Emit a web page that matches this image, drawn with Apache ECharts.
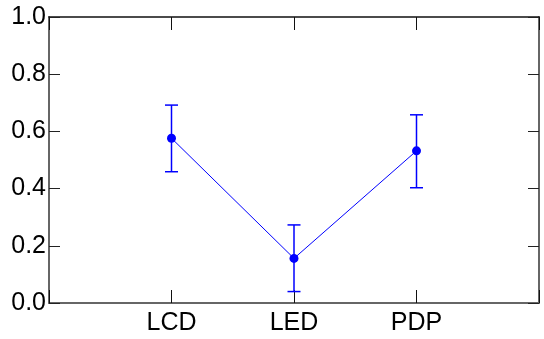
<!DOCTYPE html>
<html><head><meta charset="utf-8">
<script src="https://cdn.jsdelivr.net/npm/echarts@6/dist/echarts.min.js"></script>
<style>html,body{margin:0;padding:0;background:#fff}#c{width:544px;height:339px}</style>
</head><body><div id="c"></div>
<script>
var categories = ['LCD', 'LED', 'PDP'];
var means = [0.576, 0.156, 0.532];
var lows = [0.459, 0.040, 0.403];
var highs = [0.692, 0.273, 0.658];
var yTicks = [0.0, 0.2, 0.4, 0.6, 0.8, 1.0];

var FONT = '"Liberation Sans Narrow", "Liberation Sans", Arial, sans-serif';
var BLUE = '#0000ff';
var pts = means.map(function (v, i) { return [i + 1, v]; });
var errs = means.map(function (v, i) { return [i + 1, lows[i], highs[i]]; });

function xAx(pos, showLabel, lineColor, lineWidth) {
  return {
    type: 'value', position: pos, min: 0, max: categories.length + 1, interval: 1,
    splitLine: { show: false },
    axisLine: { show: true, onZero: false, lineStyle: { color: lineColor, width: lineWidth } },
    axisTick: { show: true, inside: true, length: 13, lineStyle: { color: '#111', width: 1 } },
    axisLabel: {
      show: showLabel, margin: 8, fontSize: 25, fontFamily: FONT, color: '#000',
      formatter: function (v) { return categories[v - 1] || ''; }
    }
  };
}
function yAx(pos, showLabel) {
  return {
    type: 'value', position: pos, min: yTicks[0], max: yTicks[yTicks.length - 1], interval: 0.2,
    splitLine: { show: false },
    axisLine: { show: true, onZero: false, lineStyle: { color: '#666', width: 2 } },
    axisTick: { show: true, inside: true, length: 11, lineStyle: { color: '#222', width: 1 } },
    axisLabel: {
      show: showLabel, margin: 3, fontSize: 25, fontFamily: FONT, color: '#000',
      formatter: function (v) { return v.toFixed(1); }
    }
  };
}

var chart = echarts.init(document.getElementById('c'));
chart.setOption({
  animation: false,
  backgroundColor: '#fff',
  grid: { left: 49, right: 5, top: 17, bottom: 36, containLabel: false },
  xAxis: [xAx('bottom', true, '#666', 2), xAx('top', false, '#111', 1.5)],
  yAxis: [yAx('left', true), yAx('right', false)],
  series: [
    {
      type: 'custom', xAxisIndex: 0, yAxisIndex: 0, data: errs, z: 3,
      renderItem: function (params, api) {
        var x = api.value(0);
        var pLo = api.coord([x, api.value(1)]);
        var pHi = api.coord([x, api.value(2)]);
        var w = 6.5;
        var st = { stroke: BLUE, lineWidth: 1.5 };
        return {
          type: 'group',
          children: [
            { type: 'line', shape: { x1: pLo[0], y1: pLo[1], x2: pHi[0], y2: pHi[1] }, style: st },
            { type: 'line', shape: { x1: pLo[0] - w, y1: pLo[1], x2: pLo[0] + w, y2: pLo[1] }, style: st },
            { type: 'line', shape: { x1: pHi[0] - w, y1: pHi[1], x2: pHi[0] + w, y2: pHi[1] }, style: st }
          ]
        };
      }
    },
    {
      type: 'line', xAxisIndex: 0, yAxisIndex: 0, data: pts, z: 4,
      symbol: 'circle', symbolSize: 9,
      lineStyle: { color: BLUE, width: 1 },
      itemStyle: { color: BLUE }
    }
  ]
});
</script></body></html>
